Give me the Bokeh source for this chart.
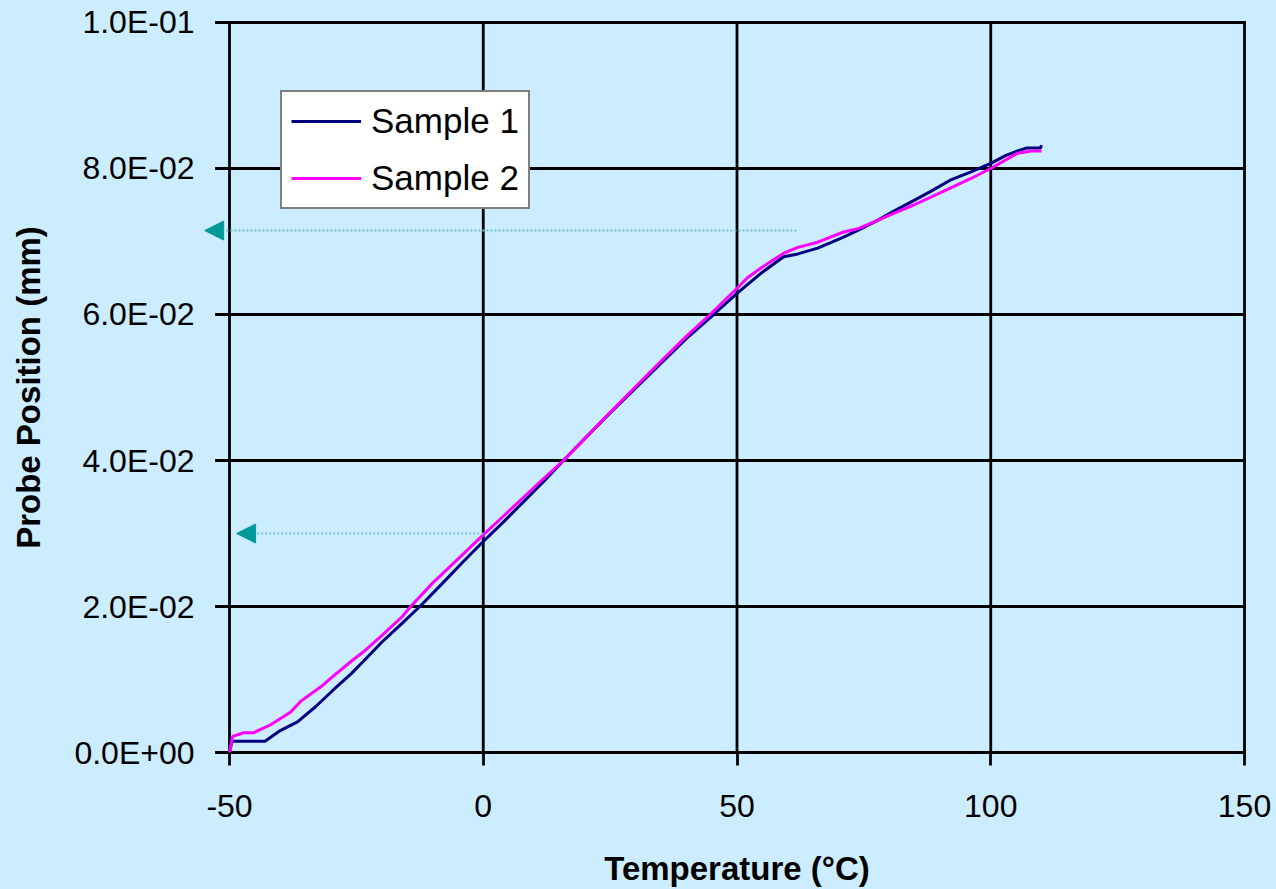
from bokeh.plotting import figure
from bokeh.models import (Range1d, FixedTicker, CustomJSTickFormatter, Legend, LegendItem,
                          Arrow, NormalHead)
from bokeh.embed import file_html
from bokeh.resources import INLINE

# ---- data ----
s1_temp = [-50, -49.5, -43, -40, -36.6, -33, -29.5, -26, -23.6, -20, -16, -12.5, -8, -4, 0,
           4, 8, 12, 15.8, 20, 25, 30, 35, 40, 45.4, 50, 55, 59.2, 62, 65.9, 71, 74, 77.7,
           81, 84.8, 88, 92, 96, 100, 103, 105.3, 107, 109.8, 110]
s1_pos = [0, 0.00155, 0.00155, 0.0030, 0.0042, 0.0063, 0.0086, 0.0108, 0.0125, 0.0151, 0.0177,
          0.0200, 0.0232, 0.0261, 0.0289, 0.0316, 0.0344, 0.0372, 0.0400, 0.0430, 0.0465,
          0.0499, 0.0533, 0.0567, 0.0600, 0.0629, 0.0658, 0.0679, 0.0683, 0.0691, 0.0706,
          0.0716, 0.0729, 0.0742, 0.0756, 0.0768, 0.0784, 0.0795, 0.0807, 0.0818, 0.0824,
          0.0828, 0.0828, 0.0832]

s2_temp = [-50, -49.4, -47.2, -45.3, -41.9, -38, -36, -32, -29.5, -26, -23.6, -20, -16, -14.3,
           -10, -5, 0, 4, 8, 12, 15.8, 20, 25, 30, 35, 40, 44.7, 50, 52, 55, 59.2, 62, 65.9,
           71, 74, 77.7, 81, 84.8, 88, 92, 96, 100, 103, 105.3, 108, 110]
s2_pos = [0, 0.0022, 0.0027, 0.0027, 0.0038, 0.0055, 0.0070, 0.0090, 0.0105, 0.0125, 0.0138,
          0.0160, 0.0186, 0.0200, 0.0232, 0.0265, 0.0298, 0.0324, 0.0350, 0.0376, 0.0400,
          0.0430, 0.0466, 0.0501, 0.0536, 0.0570, 0.0600, 0.0636, 0.0650, 0.0665, 0.0684,
          0.0692, 0.0699, 0.0713, 0.0718, 0.0729, 0.0739, 0.0750, 0.0760, 0.0773, 0.0786,
          0.0800, 0.0812, 0.0821, 0.0824, 0.0824]

series_names = ["Sample 1", "Sample 2"]
x_ticks = [-50, 0, 50, 100, 150]
y_ticks = [0, 0.02, 0.04, 0.06, 0.08, 0.1]

# arrows (start temperature, tip temperature, position)
arrow_x_start = [61.7, 0.0]
arrow_x_end = [-54.9, -48.6]
arrow_y = [0.0715, 0.0300]

BG = "#CCECFF"
FONT = "Liberation Sans"
X0, X1 = -50, 150
Y0, Y1 = 0.0, 0.1
W, H = 1276, 889
PLOT_L, PLOT_R, PLOT_T, PLOT_B = 229, 1244, 22, 753   # pixel box of the axes area
px_x = (PLOT_R - PLOT_L) / (X1 - X0)
px_y = (PLOT_B - PLOT_T) / (Y1 - Y0)
FRAME_L = 199          # frame extended to the left so the arrow head can be drawn
FRAME_R = W - 2        # and to the right so the x title is centred on the axes
PAD = 2                # a few pixels beyond the axes so edge lines are not half-clipped
TICK = 13
GRID_W = 2.8

x_view = Range1d(X0 - (PLOT_L - FRAME_L) / px_x, X1 + (FRAME_R - PLOT_R) / px_x)
y_view = Range1d(Y0 - PAD / px_y, Y1 + PAD / px_y)

p = figure(width=W, height=H, output_backend="svg", toolbar_location=None,
           title=None, x_range=x_view, y_range=y_view,
           min_border_left=FRAME_L, min_border_right=W - FRAME_R,
           min_border_top=PLOT_T - PAD, min_border_bottom=H - PLOT_B - PAD)
p.background_fill_color = BG
p.border_fill_color = BG
p.outline_line_color = None
p.xgrid.visible = False
p.ygrid.visible = False

# grid lines (they also form the axis lines and the y ticks), built from the tick lists
p.segment(x0=[X0 - TICK / px_x] * len(y_ticks), y0=y_ticks,
          x1=[X1] * len(y_ticks), y1=y_ticks,
          line_color="black", line_width=GRID_W, line_cap="square")
p.segment(x0=x_ticks, y0=[Y0] * len(x_ticks), x1=x_ticks, y1=[Y1] * len(x_ticks),
          line_color="black", line_width=GRID_W, line_cap="square")

r1 = p.line(s1_temp, s1_pos, line_color="#000080", line_width=3)
r2 = p.line(s2_temp, s2_pos, line_color="#FF00FF", line_width=3)

for xs, xe, yy in zip(arrow_x_start, arrow_x_end, arrow_y):
    p.add_layout(Arrow(x_start=xs, y_start=yy, x_end=xe, y_end=yy,
                       line_color="#70C4CE", line_width=2, line_dash="2 2",
                       end=NormalHead(size=19, fill_color="#009999", line_color="#009999",
                                      line_width=1)))

for ax in (p.xaxis[0], p.yaxis[0]):
    ax.axis_line_color = None
    ax.major_tick_line_color = "black"
    ax.major_tick_line_width = GRID_W
    ax.minor_tick_line_color = None
    ax.major_label_text_font = FONT
    ax.major_label_text_font_size = "32px"
    ax.major_label_text_color = "black"
    ax.axis_label_text_font = FONT
    ax.axis_label_text_font_size = "33px"
    ax.axis_label_text_font_style = "bold"
    ax.axis_label_text_color = "black"

p.xaxis.major_tick_in = PAD
p.xaxis.major_tick_out = TICK - PAD
p.yaxis.major_tick_line_color = None
p.yaxis.major_tick_in = 0
p.yaxis.major_tick_out = 0

p.xaxis.ticker = FixedTicker(ticks=x_ticks)
p.yaxis.ticker = FixedTicker(ticks=y_ticks)
p.xaxis.formatter = CustomJSTickFormatter(code="return tick.toFixed(0);")
p.yaxis.formatter = CustomJSTickFormatter(code="""
    var s = tick.toExponential(1);
    var parts = s.split('e');
    var e = parseInt(parts[1]);
    var a = Math.abs(e);
    return parts[0] + 'E' + (e < 0 ? '-' : '+') + (a < 10 ? '0' : '') + a;
""")
p.xaxis.axis_label = "Temperature (°C)"
p.yaxis.axis_label = "Probe Position (mm)"
p.xaxis.major_label_standoff = 29
p.xaxis.axis_label_standoff = 30
p.yaxis.major_label_standoff = 5
p.yaxis.axis_label_standoff = 24

legend = Legend(items=[LegendItem(label=series_names[0], renderers=[r1]),
                       LegendItem(label=series_names[1], renderers=[r2])],
                location=(81, 545))
legend.background_fill_color = "white"
legend.background_fill_alpha = 1
legend.border_line_color = "black"
legend.border_line_width = 2.5
legend.label_text_font = FONT
legend.label_text_font_size = "35px"
legend.label_text_color = "black"
legend.glyph_width = 70
legend.glyph_height = 40
legend.label_height = 40
legend.spacing = 17
legend.padding = 9
legend.margin = 0
legend.label_standoff = 10
p.add_layout(legend, "center")

html = file_html(p, INLINE)
html = html.replace("<body>", '<body style="background-color:#CCECFF;">')
open("out.html", "w").write(html)
